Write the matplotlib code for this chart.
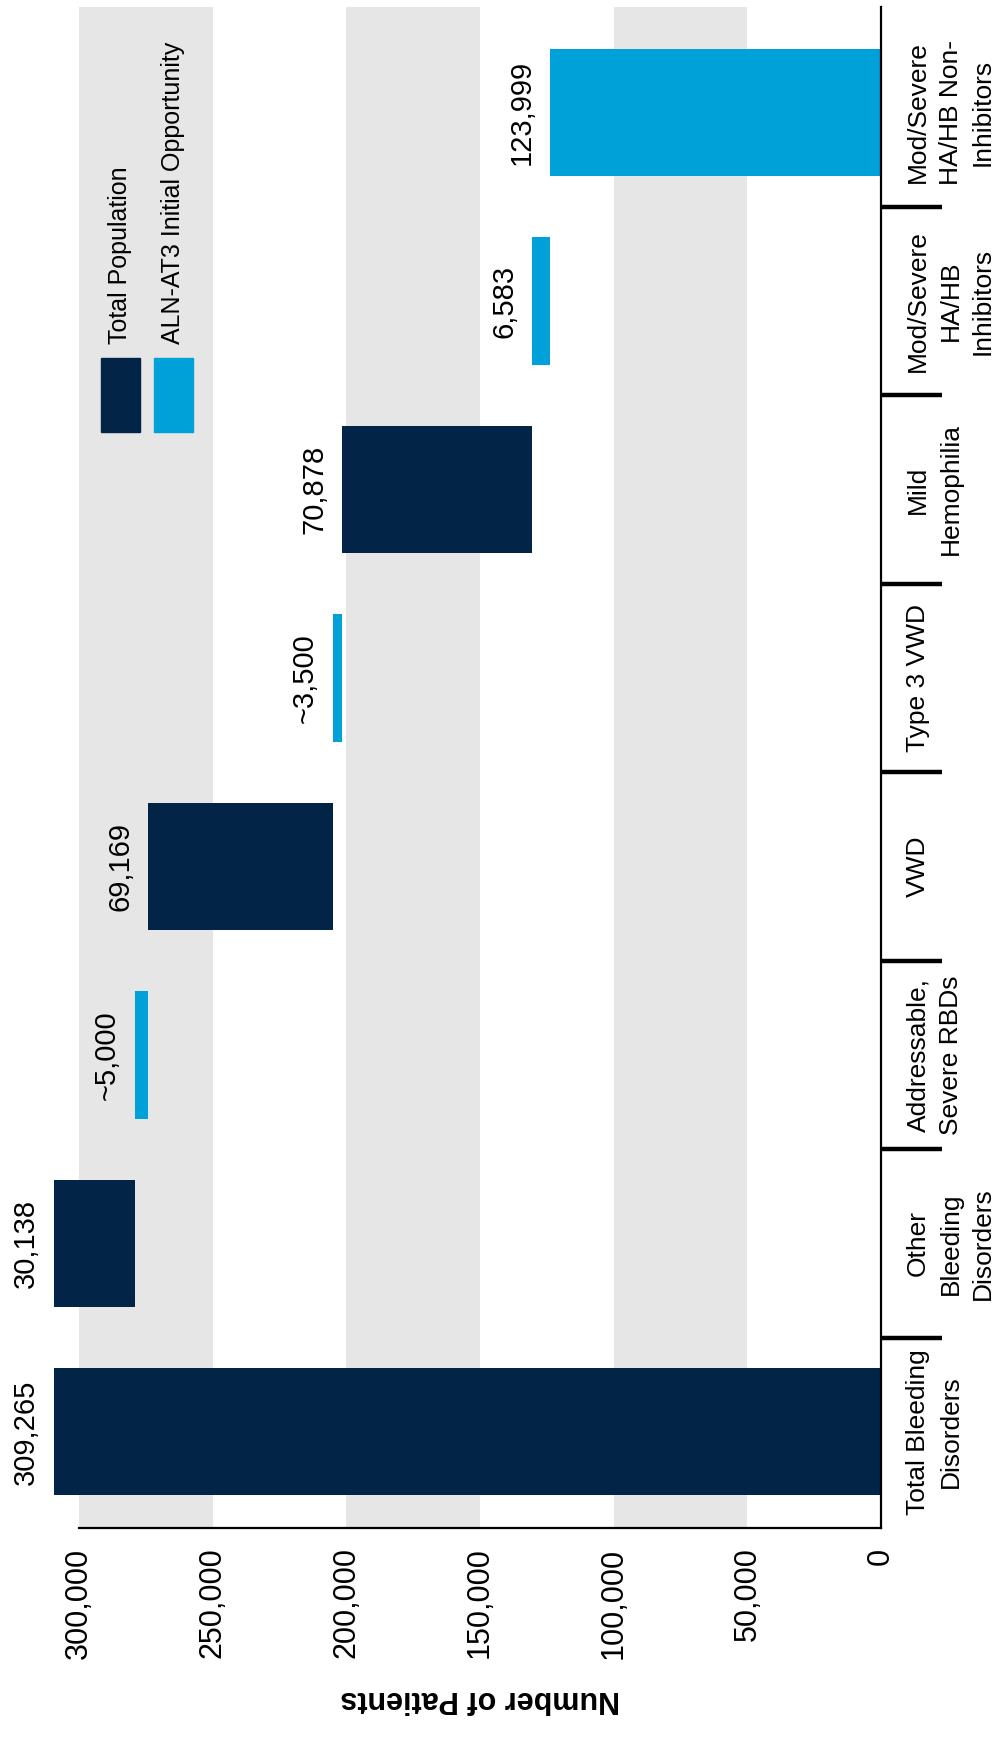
import matplotlib
matplotlib.use("Agg")
import matplotlib.pyplot as plt
from matplotlib.patches import Rectangle
from matplotlib.ticker import FuncFormatter

# Waterfall: each segment steps down from the previous one
categories = [
    "Total Bleeding\nDisorders",
    "Other\nBleeding\nDisorders",
    "Addressable,\nSevere RBDs",
    "VWD",
    "Type 3 VWD",
    "Mild\nHemophilia",
    "Mod/Severe\nHA/HB\nInhibitors",
    "Mod/Severe\nHA/HB Non-\nInhibitors",
]
values = [309265, 30138, 5000, 69169, 3500, 70878, 6583, 123999]
value_labels = ["309,265", "30,138", "~5,000", "69,169", "~3,500", "70,878", "6,583", "123,999"]
series = ["total", "total", "opp", "total", "opp", "total", "opp", "opp"]
legend_labels = ["Total Population", "ALN-AT3 Initial Opportunity"]
ticks = [0, 50000, 100000, 150000, 200000, 250000, 300000]

NAVY = "#022447"
BLUE = "#00A0D8"
BAND = "#E6E6E6"
colors = {"total": NAVY, "opp": BLUE}

NARROW = ["Liberation Sans Narrow", "Liberation Sans", "DejaVu Sans"]
plt.rcParams["font.family"] = ["Liberation Sans", "DejaVu Sans"]

# floating bottoms: start from total, step down; last bar sits on zero
bottoms = [0]
level = values[0]
for v in values[1:-1]:
    level -= v
    bottoms.append(level)
bottoms.append(0)

fig = plt.figure(figsize=(10.05, 17.38), dpi=100)
W, H = 1005, 1738
ax = fig.add_axes([79 / W, 1 - 1528 / H, 802 / W, 1521 / H])

# alternating grey bands behind the bars
for lo in (50000, 150000, 250000):
    ax.axvspan(lo, lo + 50000, color=BAND, lw=0, zorder=0)

ypos = list(range(len(categories)))
for y, b, v, s, lab in zip(ypos, bottoms, values, series, value_labels):
    ax.barh(y, v, left=b, height=0.675, color=colors[s], zorder=2, clip_on=False)
    ax.annotate(lab, (b + v, y), xytext=(-10, 0), textcoords="offset points",
                rotation=90, ha="right", va="center", fontsize=21, zorder=3,
                annotation_clip=False)

ax.set_xlim(300000, 0)
ax.set_ylim(-0.51, 7.56)

ax.set_xticks(ticks)
ax.xaxis.set_major_formatter(FuncFormatter(lambda v, _: f"{int(v):,}"))
ax.tick_params(axis="x", length=0, pad=14, labelsize=22, labelrotation=90)
for t in ax.get_xticklabels():
    t.set_va("top")

ax.yaxis.tick_right()
ax.set_yticks(ypos)
ax.set_yticklabels(categories, rotation=90, va="center", ha="left",
                   multialignment="center", family=NARROW, fontsize=19,
                   linespacing=1.45)
ax.set_yticks([i + 0.5 for i in range(len(categories) - 1)], minor=True)
ax.tick_params(axis="y", which="major", length=0, pad=18)
ax.tick_params(axis="y", which="minor", direction="out", length=44, width=3.2, color="black")

for side in ("left", "top"):
    ax.spines[side].set_visible(False)
ax.spines["bottom"].set_linewidth(1.6)
ax.spines["right"].set_linewidth(1.6)

ax.set_xlabel("Number of Patients", rotation=180, fontsize=22, fontweight="bold",
              family=NARROW, labelpad=18)

# legend keys drawn by hand so the text can run vertically
for i, (name, key) in enumerate(zip(legend_labels, ["total", "opp"])):
    cx = 120 + i * 53
    fig.patches.append(Rectangle(((cx - 19) / W, 1 - 432 / H), 39 / W, 74 / H,
                                 transform=fig.transFigure, color=colors[key]))
    fig.text(cx / W, 1 - 344 / H, name, rotation=90, ha="center", va="bottom",
             family=NARROW, fontsize=18)

fig.savefig("out.png", dpi=100, facecolor="white")
